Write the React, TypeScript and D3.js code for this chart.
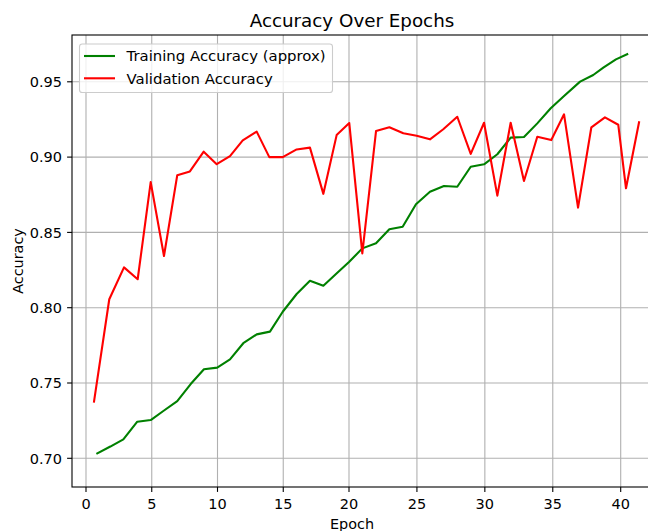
import React from "react";
import * as d3 from "d3";

const trainEpochs = [0.86, 1.85, 2.84, 3.9, 4.92, 5.88, 6.94, 7.96, 8.97, 9.98, 10.95, 11.96, 12.98, 13.99, 14.96, 16.02, 17.03, 18.05, 19.01, 20.02, 20.98, 21.99, 22.97, 23.95, 24.93, 25.96, 26.99, 27.97, 28.96, 29.94, 30.92, 31.9, 32.88, 33.86, 34.85, 35.83, 37.01, 37.98, 38.72, 39.65, 40.48];
const trainAcc = [0.7033, 0.7078, 0.7126, 0.7243, 0.7254, 0.7314, 0.738, 0.7493, 0.7591, 0.7602, 0.7657, 0.7764, 0.7823, 0.7841, 0.7973, 0.8091, 0.8179, 0.8146, 0.8224, 0.8305, 0.8394, 0.8428, 0.8521, 0.8538, 0.8687, 0.877, 0.8808, 0.8803, 0.8936, 0.8952, 0.9019, 0.9129, 0.9133, 0.9224, 0.9324, 0.9406, 0.9501, 0.9545, 0.9594, 0.9649, 0.9683];

const valEpochs = [0.61, 1.77, 2.89, 3.93, 4.92, 5.93, 6.94, 7.9, 8.95, 9.94, 10.95, 11.92, 12.98, 13.94, 14.96, 16.02, 17.03, 18.05, 19.06, 20.02, 20.98, 21.99, 22.97, 24.0, 24.98, 25.96, 26.94, 27.97, 28.96, 29.94, 30.92, 31.9, 32.88, 33.86, 34.89, 35.83, 36.86, 37.84, 38.84, 39.82, 40.39, 41.35];
const valAcc = [0.7376, 0.8056, 0.8268, 0.8189, 0.8834, 0.8343, 0.888, 0.8905, 0.9036, 0.8953, 0.9007, 0.9111, 0.9169, 0.9, 0.9, 0.9051, 0.9063, 0.8756, 0.9146, 0.9226, 0.8361, 0.9173, 0.9198, 0.9158, 0.9142, 0.9118, 0.9185, 0.9268, 0.9021, 0.9228, 0.8744, 0.9228, 0.8841, 0.9135, 0.9113, 0.9284, 0.8664, 0.9198, 0.9264, 0.9215, 0.8793, 0.9231];

const xTicks = [0, 5, 10, 15, 20, 25, 30, 35, 40];
const yTicks = [0.7, 0.75, 0.8, 0.85, 0.9, 0.95];

const W = 648;
const H = 531;
const left = 72;
const right = 652;
const top = 35;
const bottom = 487;
const FONT = "DejaVu Sans, sans-serif";

export default function App() {
  const x = d3.scaleLinear().domain([0, 20, 40]).range([86, 349, 620.7]);
  const y = d3.scaleLinear().domain([0.7, 0.95]).range([458.3, 81.8]);

  const line = d3
    .line<[number, number]>()
    .x((d) => x(d[0]))
    .y((d) => y(d[1]));

  const trainPts: [number, number][] = trainEpochs.map((e, i) => [e, trainAcc[i]]);
  const valPts: [number, number][] = valEpochs.map((e, i) => [e, valAcc[i]]);

  return (
    <svg
      width={W}
      height={H}
      style={{ position: "absolute", left: 0, top: 0, background: "#fff" }}
      fontFamily={FONT}
    >
      <defs>
        <clipPath id="plotclip">
          <rect x={left} y={top} width={right - left} height={bottom - top} />
        </clipPath>
      </defs>
      <rect x={0} y={0} width={W} height={H} fill="#fff" />
      {/* grid */}
      <g stroke="#b0b0b0" strokeWidth={1.1}>
        {xTicks.map((t) => (
          <line key={"gx" + t} x1={x(t)} x2={x(t)} y1={top} y2={bottom} />
        ))}
        {yTicks.map((t) => (
          <line key={"gy" + t} x1={left} x2={right} y1={y(t)} y2={y(t)} />
        ))}
      </g>
      {/* lines */}
      <g clipPath="url(#plotclip)" fill="none" strokeWidth={2.1} strokeLinejoin="round" strokeLinecap="square">
        <path d={line(trainPts) || ""} stroke="#008000" />
        <path d={line(valPts) || ""} stroke="#ff0000" />
      </g>
      {/* spines */}
      <g stroke="#000" strokeWidth={1.1} fill="none">
        <rect x={left} y={top} width={right - left} height={bottom - top} />
      </g>
      {/* x ticks */}
      <g>
        {xTicks.map((t) => (
          <g key={"xt" + t}>
            <line x1={x(t)} x2={x(t)} y1={bottom} y2={bottom + 4.9} stroke="#000" strokeWidth={1.1} />
            <text x={x(t)} y={509} textAnchor="middle" fontSize={14.5} fill="#000">
              {t}
            </text>
          </g>
        ))}
      </g>
      {/* y ticks */}
      <g>
        {yTicks.map((t) => (
          <g key={"yt" + t}>
            <line x1={left - 4.9} x2={left} y1={y(t)} y2={y(t)} stroke="#000" strokeWidth={1.1} />
            <text x={62} y={y(t)} dy="0.36em" textAnchor="end" fontSize={14.5} fill="#000">
              {d3.format(".2f")(t)}
            </text>
          </g>
        ))}
      </g>
      {/* labels */}
      <text x={352} y={27} textAnchor="middle" fontSize={18.3} fill="#000">
        Accuracy Over Epochs
      </text>
      <text x={352} y={528.5} textAnchor="middle" fontSize={14.4} fill="#000">
        Epoch
      </text>
      <text
        transform={`translate(22.5,${(top + bottom) / 2}) rotate(-90)`}
        textAnchor="middle"
        fontSize={14.4}
        fill="#000"
      >
        Accuracy
      </text>
      {/* legend */}
      <g>
        <rect x={79.5} y={44} width={253} height={48.5} rx={2.8} fill="#fff" fillOpacity={0.8} stroke="#cccccc" strokeWidth={1.1} />
        <line x1={84} x2={115} y1={56} y2={56} stroke="#008000" strokeWidth={2.1} />
        <line x1={84} x2={115} y1={78.3} y2={78.3} stroke="#ff0000" strokeWidth={2.1} />
        <text x={126.5} y={56} dy="0.36em" fontSize={14.9} fill="#000">
          Training Accuracy (approx)
        </text>
        <text x={126.5} y={78.3} dy="0.36em" fontSize={14.9} fill="#000">
          Validation Accuracy
        </text>
      </g>
    </svg>
  );
}
